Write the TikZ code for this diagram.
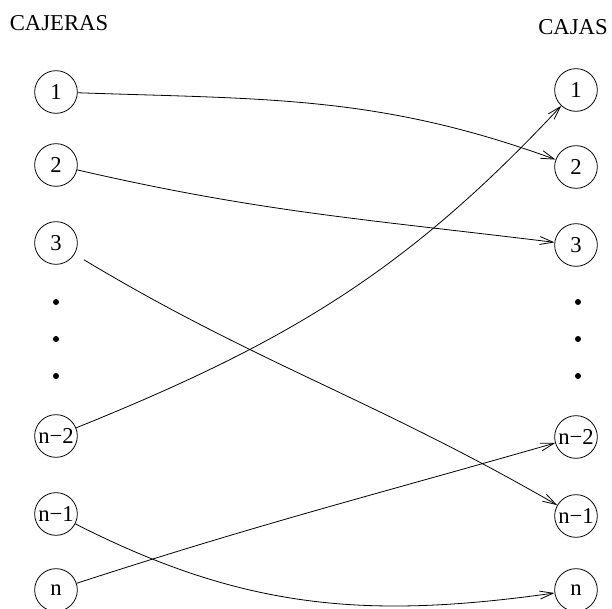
\documentclass[tikz,border=0pt]{standalone}
\usepackage{fontspec}
\setmainfont{Liberation Serif}
\usetikzlibrary{arrows.meta}
\tikzset{
	caja/.style={circle,draw,line width=0.6pt,minimum size=32pt,inner sep=0pt,font=\fontsize{17}{19}\selectfont},
	flecha/.style={line width=0.6pt,-{Straight Barb[length=10pt,width=6pt,line width=0.6pt]}},
	punto/.style={circle,fill,inner sep=0pt,minimum size=4.5pt}
}
\begin{document}
\begin{tikzpicture}[x=0.75pt,y=-0.75pt]
	\useasboundingbox (0,0) rectangle (612,609);
	\node [font=\fontsize{17}{19}\selectfont] (cajeras) at (59,23) {CAJERAS};
	\node [font=\fontsize{17}{19}\selectfont] (cajas) at (573,27) {CAJAS};
	% cajeras
	\node [caja] (L1) at (56,92) {1};
	\node [caja] (L2) at (56,165) {2};
	\node [caja] (L3) at (56,243) {3};
	\node [caja] (Ln2) at (56,436) {n−2};
	\node [caja] (Ln1) at (56,514) {n−1};
	\node [caja] (Ln) at (56,590) {n};
	% cajas
	\node [caja] (R1) at (576,90) {1};
	\node [caja] (R2) at (576,167) {2};
	\node [caja] (R3) at (576,245) {3};
	\node [caja] (Rn2) at (576,437) {n−2};
	\node [caja] (Rn1) at (576,516) {n−1};
	\node [caja] (Rn) at (576,590) {n};
	\foreach \y in {302,339,376} {
		\node [punto] (pl\y) at (56,\y) {};
		\node [punto] (pr\y) at (578,\y) {};
	}
	\draw [flecha] (L1) to [out=-2,in=160] (R2);
	\draw [flecha] (L2) to [out=-13,in=173] (R3);
	\draw [flecha,shorten <=8pt] (L3) to [out=-31,in=150] (Rn1);
	\draw [flecha] (Ln2) to [out=22,in=227] (R1);
	\draw [flecha] (Ln1) to [out=-27,in=188] (Rn);
	\draw [flecha] (Ln) to [out=18,in=196] (Rn2);
\end{tikzpicture}
\end{document}
